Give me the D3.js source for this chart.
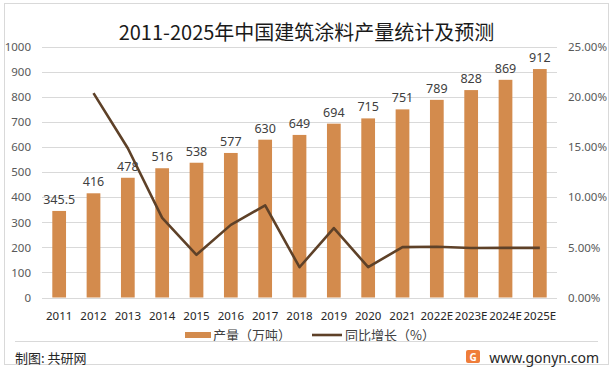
<!DOCTYPE html>
<html>
<head>
<meta charset="utf-8">
<script src="https://cdn.jsdelivr.net/npm/d3@7/dist/d3.min.js"></script>
<style>
  body { margin: 0; background: #fff; }
  svg { display: block; font-family: "Noto Sans CJK SC", "Noto Sans", sans-serif; }
</style>
</head>
<body>
<div id="chart"></div>
<script>
const years = ["2011", "2012", "2013", "2014", "2015", "2016", "2017", "2018", "2019", "2020", "2021", "2022E", "2023E", "2024E", "2025E"];
const output = [345.5, 416, 478, 516, 538, 577, 630, 649, 694, 715, 751, 789, 828, 869, 912];
const growth = [null, 20.4, 14.9, 7.95, 4.26, 7.25, 9.19, 3.02, 6.93, 3.03, 5.03, 5.06, 4.94, 4.95, 4.95];
const leftTicks = [0, 100, 200, 300, 400, 500, 600, 700, 800, 900, 1000];
const rightTicks = [0, 5, 10, 15, 20, 25];

const width = 613, height = 370;
const margin = { left: 42, right: 56, top: 47, bottom: 72 };

const svg = d3.select("#chart").append("svg")
  .attr("width", width)
  .attr("height", height);

// outer frame
svg.append("rect")
  .attr("x", 4.5).attr("y", 3.5)
  .attr("width", 604).attr("height", 361)
  .attr("fill", "#fff")
  .attr("stroke", "#d9d9d9");

const x = d3.scaleBand()
  .domain(years)
  .range([margin.left, width - margin.right])
  .paddingInner(0.6)
  .paddingOuter(0.3);

const y = d3.scaleLinear().domain([0, 1000]).range([height - margin.bottom - 0.5, margin.top]);
const y2 = d3.scaleLinear().domain([0, 25]).range([height - margin.bottom - 0.5, margin.top]);

// grid
svg.append("g")
  .selectAll("line")
  .data(leftTicks)
  .join("line")
  .attr("x1", margin.left).attr("x2", width - margin.right)
  .attr("y1", d => Math.round(y(d)) + 0.5).attr("y2", d => Math.round(y(d)) + 0.5)
  .attr("stroke", "#d9d9d9");

// left axis
const leftAxis = svg.append("g")
  .attr("transform", `translate(${margin.left - 11},0)`)
  .call(d3.axisLeft(y).tickValues(leftTicks).tickSize(0).tickPadding(0).tickFormat(d3.format("d")));
leftAxis.select(".domain").remove();
leftAxis.selectAll("text").attr("fill", "#595959").style("font-size", "11.5px").style("font-family", "Noto Sans, sans-serif");

// right axis
const rightAxis = svg.append("g")
  .attr("transform", `translate(${width - margin.right + 11},0)`)
  .call(d3.axisRight(y2).tickValues(rightTicks).tickSize(0).tickPadding(0).tickFormat(d => d.toFixed(2) + "%"));
rightAxis.select(".domain").remove();
rightAxis.selectAll("text").attr("fill", "#595959").style("font-size", "11.5px").style("font-family", "Noto Sans, sans-serif");

// bottom axis labels
const bottomAxis = svg.append("g")
  .attr("transform", `translate(0,${height - margin.bottom + 11})`)
  .call(d3.axisBottom(x).tickSize(0).tickPadding(3));
bottomAxis.select(".domain").remove();
bottomAxis.selectAll("text").attr("fill", "#262626").style("font-size", "11.5px").style("font-family", "Noto Sans, sans-serif");

// bars
svg.append("g")
  .selectAll("rect")
  .data(output)
  .join("rect")
  .attr("x", (d, i) => x(years[i]))
  .attr("width", x.bandwidth())
  .attr("y", d => y(d))
  .attr("height", d => y(0) - y(d))
  .attr("fill", "#d38b4d");

// bar value labels
svg.append("g")
  .selectAll("text")
  .data(output)
  .join("text")
  .attr("x", (d, i) => x(years[i]) + x.bandwidth() / 2)
  .attr("y", d => y(d) - 7)
  .attr("text-anchor", "middle")
  .attr("fill", "#404040")
  .style("font-size", "12.5px")
  .style("font-family", "Noto Sans, sans-serif")
  .text(d => d);

// growth line
const line = d3.line()
  .defined(d => d != null)
  .x((d, i) => x(years[i]) + x.bandwidth() / 2)
  .y(d => y2(d));

svg.append("path")
  .datum(growth)
  .attr("d", line)
  .attr("fill", "none")
  .attr("stroke", "#5e4128")
  .attr("stroke-width", 2.6)
  .attr("stroke-linejoin", "round");

// title
svg.append("text")
  .attr("x", width / 2)
  .attr("y", 40)
  .attr("text-anchor", "middle")
  .attr("fill", "#1a1a1a")
  .style("font-size", "20px")
  .text("2011-2025年中国建筑涂料产量统计及预测");

// legend
const legend = svg.append("g").style("font-size", "13px").attr("fill", "#404040");
legend.append("rect").attr("x", 185).attr("y", 332).attr("width", 26).attr("height", 6).attr("fill", "#d38b4d");
legend.append("text").attr("x", 213).attr("y", 340).text("产量（万吨）");
legend.append("line").attr("x1", 312).attr("x2", 342).attr("y1", 335).attr("y2", 335)
  .attr("stroke", "#5e4128").attr("stroke-width", 2.6);
legend.append("text").attr("x", 345).attr("y", 340).text("同比增长（%）");

// footer
svg.append("line")
  .attr("x1", 15).attr("x2", 598)
  .attr("y1", 341.5).attr("y2", 341.5)
  .attr("stroke", "#d9d9d9");

svg.append("text")
  .attr("x", 15).attr("y", 363)
  .attr("fill", "#262626")
  .style("font-size", "13px")
  .text("制图: 共研网");

svg.append("rect")
  .attr("x", 466).attr("y", 350).attr("width", 14).attr("height", 13)
  .attr("rx", 2)
  .attr("fill", "#ef7d3a");
svg.append("text")
  .attr("x", 473).attr("y", 360.5)
  .attr("text-anchor", "middle")
  .attr("fill", "#fff")
  .style("font-size", "10px")
  .style("font-weight", "bold")
  .style("font-family", "Noto Sans, sans-serif")
  .text("G");

svg.append("text")
  .attr("x", 599).attr("y", 363)
  .attr("text-anchor", "end")
  .attr("fill", "#262626")
  .style("font-size", "14px")
  .style("font-family", "Noto Sans, sans-serif")
  .text("www.gonyn.com");
</script>
</body>
</html>
